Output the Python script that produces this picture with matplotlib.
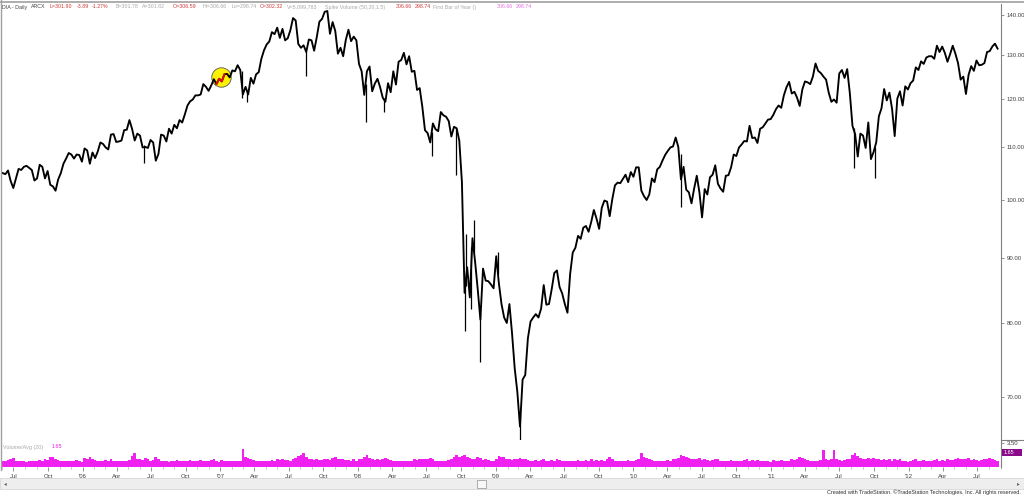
import matplotlib
matplotlib.use('Agg')
import matplotlib.pyplot as plt
import matplotlib.dates as mdates
import matplotlib.ticker as mticker
import pandas as pd
from matplotlib.patches import Rectangle
from matplotlib.lines import Line2D

plt.rcParams['font.family'] = ['Liberation Sans', 'DejaVu Sans']

# weekly (Friday) closes, one list per calendar year
close_2005 = [105.0, 104.8, 105.5, 103.5,
              102.2, 104.0, 105.8, 105.6, 106.2,
              106.4, 106.0, 105.6, 103.6,
              104.0, 106.6, 106.2, 104.0, 105.4,
              102.8, 102.5, 101.7, 103.8,
              105.0, 106.8, 107.8, 108.9,
              108.6, 107.8, 108.6, 108.5, 107.2]
close_2006 = [109.8, 109.4, 106.8, 109.0,
              107.9, 109.2, 111.0, 110.7,
              110.0, 109.6, 112.6, 112.7, 111.1,
              111.2, 111.4, 113.5, 113.6,
              115.6, 113.8, 111.4, 112.8,
              112.4, 110.0, 110.1, 109.9, 111.5,
              111.0, 107.4, 108.7, 112.6,
              112.4, 111.2, 113.8, 112.8,
              114.6, 113.9, 115.6, 115.1, 116.8,
              118.7, 119.6, 120.0, 120.9,
              120.9, 121.1, 123.4, 122.8,
              121.9, 123.1, 124.5, 123.4, 124.6]
close_2007 = [124.0, 125.6, 125.7, 124.9,
              126.5, 126.3, 127.7, 126.6,
              121.1, 122.8, 121.1, 124.8, 123.5,
              125.6, 126.1, 129.2, 131.2,
              132.6, 133.3, 135.6, 135.1,
              136.7, 134.2, 136.4, 133.6, 134.1,
              136.1, 139.1, 138.5, 132.7,
              131.8, 132.4, 130.8, 133.8, 133.6,
              131.1, 134.4, 138.2, 138.9,
              140.7, 140.9, 135.2, 138.1,
              135.9, 130.4, 131.8, 129.8, 133.7,
              136.2, 133.4, 134.5, 133.6]
close_2008 = [128.0, 126.3, 121.0, 126.3,
              127.4, 121.8, 123.5, 124.6, 122.7,
              120.4, 119.5, 123.6, 121.6,
              126.3, 123.3, 128.5, 128.9,
              130.6, 127.9, 129.8, 126.2, 126.4,
              122.1, 122.5, 118.4, 113.5,
              112.9, 111.0, 114.9, 113.7,
              113.3, 117.3, 116.6, 116.3, 115.4,
              112.2, 114.2, 113.9, 111.4,
              103.3, 84.5, 88.5, 83.8, 93.3,
              89.4, 85.0, 80.5, 88.3,
              86.4, 86.3, 85.8, 85.2]
close_2009 = [90.3, 86.0, 82.8, 80.8, 80.0,
              82.8, 78.5, 73.7, 70.6,
              66.3, 72.2, 72.8, 77.8,
              80.2, 80.8, 81.3, 80.8,
              82.1, 85.7, 82.7, 82.8, 85.0,
              87.6, 88.0, 85.4, 84.4,
              82.8, 81.5, 87.4, 90.9, 91.7,
              93.7, 93.2, 95.1, 95.4,
              94.4, 96.1, 98.2, 96.7,
              94.9, 98.6, 99.9, 99.7, 97.1,
              100.2, 102.7, 103.2, 103.1,
              103.9, 104.7, 103.3, 105.2]
close_2010 = [104.3, 106.1, 106.1, 101.7, 100.7,
              100.0, 101.0, 104.0, 103.3,
              105.7, 106.2, 107.4, 108.5,
              109.3, 110.0, 110.2, 112.0, 110.1,
              103.8, 106.2, 101.9, 101.4,
              99.4, 102.1, 104.5, 101.4,
              96.9, 102.0, 101.0, 104.2, 104.7,
              106.5, 103.0, 102.1, 101.5,
              104.5, 104.6, 106.1, 108.6,
              108.3, 110.0, 110.6, 111.3, 111.2,
              114.4, 111.9, 112.0, 110.9,
              113.8, 114.1, 114.9, 115.7, 115.8]
close_2011 = [116.7, 117.9, 118.7, 118.2,
              120.9, 122.7, 123.9, 121.3,
              121.7, 120.4, 118.6, 122.2,
              124.0, 123.8, 123.4, 125.1, 128.1,
              126.4, 125.9, 125.1, 124.4,
              121.5, 119.5, 120.0, 119.3,
              125.8, 126.6, 124.8, 126.8, 121.4,
              114.4, 112.7, 108.2, 112.8,
              112.4, 109.9, 115.1, 107.7, 109.1,
              111.0, 116.4, 118.1, 122.3,
              119.8, 121.5, 118.0, 112.3,
              120.2, 121.8, 118.7, 122.9, 122.2]
close_2012 = [123.6, 124.2, 127.2, 126.6,
              128.6, 128.0, 129.5, 129.8,
              129.8, 129.2, 132.3, 130.8, 132.1,
              130.6, 128.5, 130.3, 132.3,
              130.4, 128.2, 124.4, 125.1,
              121.2, 125.5, 127.5, 126.4, 128.8,
              127.7, 127.8, 128.2, 130.8,
              131.0, 132.1, 132.8, 131.6]

# single-day extremes that stick out of the weekly line
spike_dates = ['2006-06-13', '2007-02-27', '2007-03-14', '2007-08-16', '2008-01-22',
               '2008-03-10', '2008-07-15', '2008-09-18', '2008-10-10', '2008-10-14',
               '2008-10-28', '2008-11-04', '2008-11-20', '2009-01-06', '2009-03-06',
               '2010-05-06', '2011-08-09', '2011-10-04']
spike_low = [107.0, 120.3, 119.4, 125.2, 115.1, 117.4, 108.3, 104.6, 78.8, 85.5,
             82.0, 91.0, 74.5, 87.5, 64.7, 98.7, 106.0, 104.0]
spike_high = [110.5, 126.3, 121.8, 131.0, 123.5, 120.4, 113.2, 114.0, 86.0, 94.0,
              91.8, 96.5, 81.5, 91.0, 68.0, 108.7, 114.0, 110.0]

# weekly volume / 20-day average
vol_2005 = [0.9, 0.8, 1.0, 1.1, 1.3, 0.9, 0.8, 0.9, 0.8, 0.7, 0.8, 0.9, 0.8, 0.9, 1.0, 0.9,
            1.1, 1.0, 1.4, 1.5, 1.2, 1.0, 0.9, 0.8, 0.8, 0.9, 0.8, 0.9, 1.0, 0.8, 0.7]
vol_2006 = [1.3, 1.1, 1.5, 1.2, 1.0, 0.9, 0.9, 0.8, 1.0, 0.9, 1.1, 0.9, 0.8, 0.8, 0.9, 0.9,
            0.8, 1.0, 1.6, 2.0, 1.2, 1.1, 1.0, 1.3, 1.1, 0.9, 1.0, 1.5, 1.2, 0.9, 0.8, 0.8,
            0.7, 0.8, 0.9, 1.0, 0.9, 0.9, 0.8, 0.9, 1.0, 0.9, 0.8, 0.9, 1.0, 0.9, 0.8, 0.9,
            1.0, 1.1, 0.8, 0.7]
vol_2007 = [1.0, 0.9, 0.8, 0.9, 0.9, 0.8, 0.9, 0.8, 2.6, 1.4, 1.3, 1.1, 1.0, 0.9, 0.8, 0.8,
            0.9, 0.9, 0.8, 1.0, 0.9, 1.1, 1.0, 1.2, 1.0, 1.0, 0.9, 1.1, 1.3, 1.6, 1.8, 2.0,
            1.5, 1.1, 1.2, 1.0, 1.1, 1.0, 1.0, 1.1, 1.2, 1.0, 1.3, 1.4, 1.2, 1.1, 1.2, 1.0,
            1.0, 0.9, 1.1, 0.8]
vol_2008 = [1.1, 1.2, 1.5, 1.8, 1.3, 1.1, 1.0, 1.1, 1.0, 1.2, 1.3, 1.1, 1.0, 0.9, 0.9, 0.8,
            0.9, 0.8, 0.9, 0.8, 0.9, 1.1, 1.0, 1.2, 1.1, 1.2, 1.1, 1.3, 1.1, 0.9, 0.8, 0.8,
            0.9, 0.8, 1.0, 1.2, 1.5, 1.7, 1.4, 1.6, 1.8, 1.5, 1.3, 1.2, 1.1, 1.4, 1.3, 1.0,
            1.1, 1.0, 0.9, 0.8]
vol_2009 = [1.2, 1.6, 1.4, 1.5, 1.2, 1.1, 1.0, 1.2, 1.1, 1.3, 1.2, 1.1, 1.0, 0.9, 0.9, 1.0,
            0.9, 1.0, 1.1, 0.9, 0.9, 1.0, 0.8, 1.1, 1.0, 0.9, 0.8, 0.9, 0.8, 0.8, 0.9, 1.0,
            0.9, 0.8, 1.0, 0.9, 1.1, 0.9, 1.0, 0.9, 1.0, 0.9, 1.2, 1.4, 1.1, 0.9, 0.8, 0.9,
            0.8, 0.9, 1.0, 0.8]
vol_2010 = [0.9, 1.0, 1.1, 2.0, 1.5, 1.3, 1.1, 1.0, 0.9, 0.9, 0.8, 0.9, 0.9, 1.0, 0.9, 1.1,
            1.2, 1.3, 1.8, 1.6, 1.4, 1.3, 1.1, 1.2, 1.1, 1.3, 1.0, 1.1, 1.0, 0.9, 1.0, 1.2,
            1.1, 0.9, 0.9, 0.8, 0.9, 1.0, 0.9, 0.9, 0.8, 0.9, 1.0, 1.1, 0.9, 1.0, 0.9, 1.0,
            0.9, 0.8, 0.9, 0.8, 0.7]
vol_2011 = [1.0, 0.9, 0.9, 1.0, 0.9, 0.8, 0.9, 1.1, 1.0, 1.2, 1.4, 1.3, 1.1, 1.0, 0.9, 0.9,
            0.8, 0.9, 1.0, 2.4, 1.1, 1.0, 1.1, 2.5, 1.2, 1.0, 0.9, 1.0, 1.1, 1.2, 1.8, 2.0,
            1.6, 1.3, 1.2, 1.1, 1.3, 1.2, 1.3, 1.1, 1.2, 1.0, 1.1, 1.0, 1.1, 0.9, 1.2, 1.0,
            1.1, 0.9, 0.8, 0.7]
vol_2012 = [0.9, 1.0, 1.1, 0.9, 0.9, 1.0, 0.9, 0.8, 0.9, 1.0, 1.1, 0.9, 1.0, 0.9, 1.1, 1.0,
            1.0, 1.1, 1.3, 1.2, 1.1, 1.2, 1.3, 1.0, 1.1, 1.0, 0.9, 1.0, 1.1, 1.2, 1.3, 1.1,
            1.0, 0.9]

price_ticks = [70, 80, 90, 100, 110, 120, 130, 140]
vol_ticks = [3.5]
vol_last = '1.65'
marker_date, marker_price = '2007-01-03', 125.0
red_from, red_to = '2006-12-20', '2007-01-14'

closes = (close_2005 + close_2006 + close_2007 + close_2008 + close_2009 +
          close_2010 + close_2011 + close_2012)
vols = vol_2005 + vol_2006 + vol_2007 + vol_2008 + vol_2009 + vol_2010 + vol_2011 + vol_2012
weeks = pd.date_range('2005-06-03', periods=len(closes), freq='7D')
price = pd.Series(closes, index=weeks)

W, H = 1024, 495
fig = plt.figure(figsize=(W / 100, H / 100), dpi=100)
fig.patch.set_facecolor('white')


def px_box(x0, y0, x1, y1):
    return [x0 / W, 1 - y1 / H, (x1 - x0) / W, (y1 - y0) / H]


def fig_text(x, y, s, **kw):
    kw.setdefault('fontsize', 4.3)
    kw.setdefault('va', 'center')
    return fig.text(x / W, 1 - y / H, s, **kw)


ax = fig.add_axes(px_box(2, 4, 1001, 440))
axv = fig.add_axes(px_box(2, 441, 1001, 467), sharex=ax)

# price panel
ax.plot(price.index, price.values, color='black', lw=1.35, zorder=3)
ax.vlines(pd.to_datetime(spike_dates), spike_low, spike_high, color='black', lw=0.9, zorder=3)
ax.plot(pd.to_datetime(marker_date), marker_price, 'o', ms=14, mfc='#fff200',
        mec='#555555', mew=0.6, zorder=2)
seg = price[red_from:red_to]
ax.plot(seg.index, seg.values, color='#e01010', lw=1.4, zorder=4)

ax.set_yscale('log')
ax.set_ylim(64.7, 142.7)
ax.set_xlim(pd.Timestamp('2005-06-01'), pd.Timestamp('2012-09-02'))
ax.yaxis.tick_right()
ax.yaxis.set_major_locator(mticker.FixedLocator(price_ticks))
ax.yaxis.set_major_formatter(mticker.FormatStrFormatter('%.2f'))
ax.yaxis.set_minor_locator(mticker.NullLocator())
ax.tick_params(axis='y', direction='out', length=2.5, width=0.6, color='#808080',
               labelsize=4.3, labelcolor='#404040', pad=1.5)
ax.tick_params(axis='x', which='both', bottom=False, top=False, labelbottom=False)
for side in ['top', 'left', 'bottom']:
    ax.spines[side].set_visible(False)
ax.spines['right'].set_color('#808080')
ax.spines['right'].set_linewidth(0.8)

# volume panel
axv.bar(weeks, vols, width=7, color='#f020f0', linewidth=0)
axv.set_ylim(0, 3.78)
axv.yaxis.tick_right()
axv.set_yticks(vol_ticks)
axv.yaxis.set_major_formatter(mticker.FormatStrFormatter('%.2f'))
axv.tick_params(axis='y', direction='out', length=2.5, width=0.6, color='#808080',
                labelsize=4.3, labelcolor='#404040', pad=1.5)
for side in ['top', 'left', 'bottom']:
    axv.spines[side].set_visible(False)
axv.spines['right'].set_color('#808080')
axv.spines['right'].set_linewidth(0.8)


def month_label(x, pos=None):
    d = mdates.num2date(x)
    return "'%02d" % (d.year % 100) if d.month == 1 else d.strftime('%b')


axv.xaxis.set_major_locator(mdates.MonthLocator(bymonth=[1, 4, 7, 10]))
axv.xaxis.set_minor_locator(mdates.MonthLocator())
axv.xaxis.set_major_formatter(mticker.FuncFormatter(month_label))
axv.tick_params(axis='x', which='major', direction='out', length=3, width=0.6,
                color='#808080', labelsize=4.3, labelcolor='#404040', pad=2)
axv.tick_params(axis='x', which='minor', direction='out', length=1.5, width=0.5,
                color='#a0a0a0')

# last-value tag of the volume study
fig.add_artist(Rectangle((1002 / W, 1 - 456 / H), 20 / W, 7.5 / H, transform=fig.transFigure,
                         fc='#8a0a8a', ec='none'))
fig_text(1004, 452.3, vol_last, color='white', fontsize=4.0)

# frame lines
fig.add_artist(Line2D([0, 1], [1 - 1.5 / H, 1 - 1.5 / H], color='#a0a0a0', lw=1.2))
fig.add_artist(Line2D([1 / W, 1 / W], [1 - 470 / H, 1], color='#a0a0a0', lw=1.0))
fig.add_artist(Line2D([1001 / W, 1], [1 - 439.5 / H, 1 - 439.5 / H], color='#808080', lw=0.8))

# header legend: chunks at the positions seen in the reference, never overlapping
red, grey, dark, pink = '#d03a3a', '#a8a8a8', '#404040', '#e070e0'
header = [('DIA - Daily', 2, dark), ('ARCX', 31, dark), ('L=301.90', 50, red),
          ('-3.89', 77, red), ('-1.27%', 92, red), ('B=301.78', 116, grey),
          ('A=301.82', 142, grey), ('O=306.59', 173, red), ('Hi=306.66', 203, grey),
          ('Lo=298.74', 232, grey), ('C=302.32', 259, red), ('V=5,099,783', 287, grey),
          ('Spike Volume (50,20,1.5)', 325, grey), ('306.66', 396, red),
          ('298.74', 411, red), ('First Bar of Year ()', 427, grey),
          ('306.66', 497, pink), ('298.74', 512, pink)]
renderer = fig.canvas.get_renderer()
x_next = 0
for s, x, c in header:
    t = fig_text(max(x, x_next), 7, s, color=c, fontsize=3.8)
    x_next = max(x, x_next) + t.get_window_extent(renderer).width + 2.5

fig_text(3, 447, 'Volume/Avg (20)', color=grey, fontsize=3.9)
fig_text(52, 447, vol_last, color='#e020e0', fontsize=3.9)

# scroll bar
fig.add_artist(Rectangle((0, 1 - 489 / H), 1, 11 / H, transform=fig.transFigure,
                         fc='#eeeeee', ec='#d8d8d8', lw=0.6))
fig.add_artist(Rectangle((477 / W, 1 - 488 / H), 9 / W, 8 / H, transform=fig.transFigure,
                         fc='#f8f8f8', ec='#a0a0a0', lw=0.6))
fig_text(4, 483.5, '\u25c2', color='#606060', fontsize=4, family='DejaVu Sans')
fig_text(1017, 483.5, '\u25b8', color='#606060', fontsize=4, family='DejaVu Sans')

fig_text(1021, 492, 'Created with TradeStation. \u00a9TradeStation Technologies, Inc. All rights reserved.',
         color='#303030', ha='right', fontsize=4.0)

fig.savefig('out.png', dpi=100)
